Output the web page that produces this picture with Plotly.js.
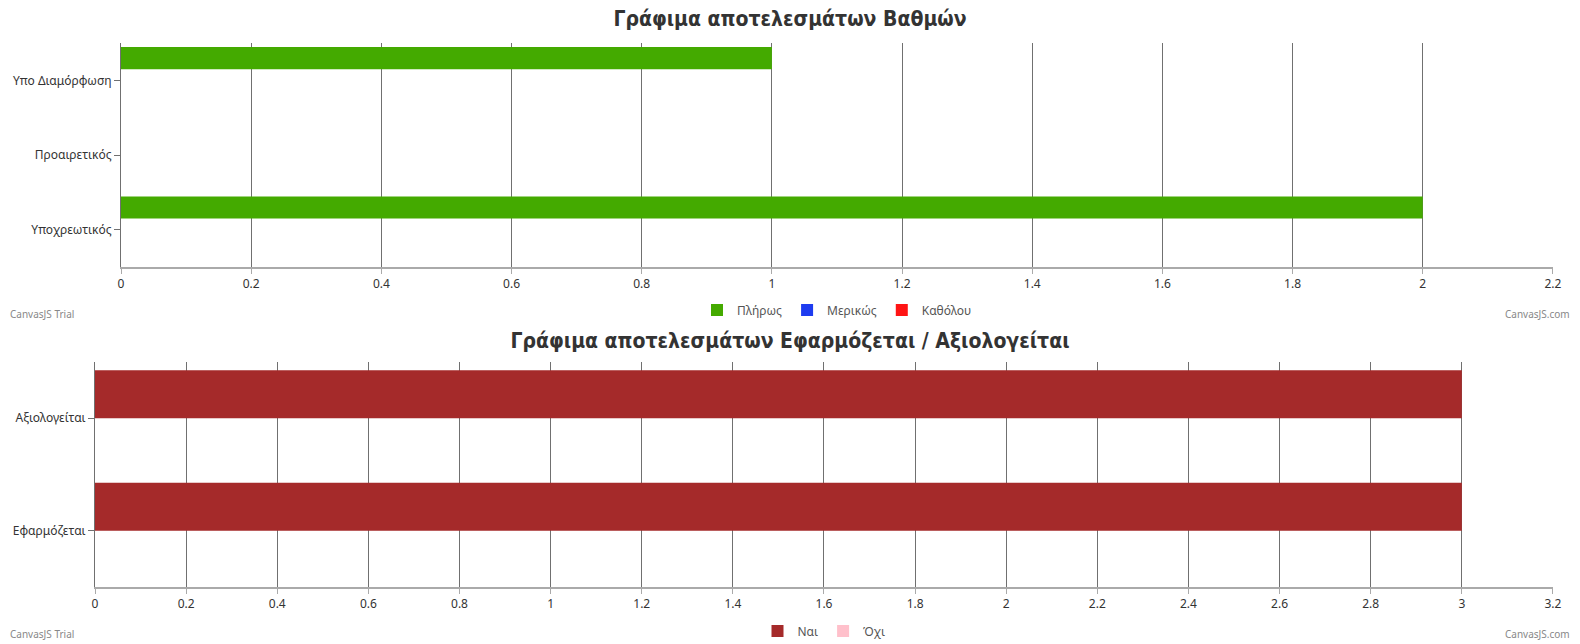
<!DOCTYPE html>
<html>
<head>
<meta charset="utf-8">
<script src="https://cdn.plot.ly/plotly-3.0.1.min.js"></script>
<style>
  body { margin: 0; background: #fff; }
  .chart { width: 1580px; height: 322px; }
</style>
</head>
<body>
<div id="gradeChart" class="chart"></div>
<div id="applyChart" class="chart"></div>
<script>
// Grades chart
var gradeCategories = ["Υποχρεωτικός", "Προαιρετικός", "Υπο Διαμόρφωση"];
var fullValues = [2, 0, 1];      // Πλήρως
var partialValues = [0, 0, 0];   // Μερικώς
var noneValues = [0, 0, 0];      // Καθόλου

// Applied / evaluated chart
var applyCategories = ["Εφαρμόζεται", "Αξιολογείται"];
var yesValues = [3, 3];   // Ναι
var noValues = [0, 0];    // Όχι

var W = 1580, H = 322;
var labelFont = {family: "Noto Sans, sans-serif", size: 12, color: "#333"};
var titleFont = {family: "DejaVu Sans Condensed, DejaVu Sans, sans-serif", size: 21, weight: 700, color: "#333"};

function bar(name, cats, vals, color) {
  return {
    type: "bar",
    orientation: "h",
    name: name,
    y: cats,
    x: vals,
    marker: {color: color},
    hoverinfo: "x+y+name"
  };
}

// px -> paper coords, for the watermark notes
function notes(m, yPx) {
  var pw = W - m.l - m.r, ph = H - m.t - m.b;
  var yPaper = -(yPx - (H - m.b)) / ph;
  var f = {family: "Noto Sans, sans-serif", size: 10, color: "#888"};
  return [
    {text: "CanvasJS Trial", xref: "paper", yref: "paper", x: (8 - m.l) / pw, y: yPaper,
     xanchor: "left", yanchor: "middle", showarrow: false, font: f},
    {text: "CanvasJS.com", xref: "paper", yref: "paper", x: (1572 - m.l) / pw, y: yPaper,
     xanchor: "right", yanchor: "middle", showarrow: false, font: f}
  ];
}

function layoutFor(title, m, xmax, bargap, legendY, noteY) {
  var ph = H - m.t - m.b;
  return {
    width: W, height: H,
    margin: m,
    paper_bgcolor: "#fff",
    plot_bgcolor: "#fff",
    title: {text: title, font: titleFont, x: 0.5, xref: "container", y: 1 - 18.5 / H, yref: "container", yanchor: "middle"},
    barmode: "group",
    bargap: bargap,
    bargroupgap: 0,
    showlegend: true,
    legend: {orientation: "h", x: 0.5, xanchor: "center", y: -(legendY - (H - m.b)) / ph, yanchor: "middle",
             traceorder: "reversed", font: {family: "Noto Sans, sans-serif", size: 12, color: "#555"}},
    xaxis: {
      range: [0, xmax + 0.0001], dtick: 0.2, tick0: 0,
      showgrid: true, gridcolor: "#707070", gridwidth: 1, zeroline: false,
      showline: true, linecolor: "#aaa", linewidth: 2,
      ticks: "outside", ticklen: 5, tickcolor: "#aaa",
      tickfont: labelFont, fixedrange: true
    },
    yaxis: {
      type: "category", showgrid: false, zeroline: false,
      showline: true, linecolor: "#707070", linewidth: 1,
      ticks: "outside", ticklen: 6, tickcolor: "#707070",
      tickfont: labelFont, fixedrange: true
    },
    annotations: notes(m, noteY)
  };
}

var m1 = {l: 121, r: 27, t: 43, b: 55, pad: 0, autoexpand: false};
var gradeData = [
  bar("Καθόλου", gradeCategories, noneValues, "#ff1414"),
  bar("Μερικώς", gradeCategories, partialValues, "#1e3cf0"),
  bar("Πλήρως", gradeCategories, fullValues, "#44aa00")
];
Plotly.newPlot("gradeChart", gradeData,
  layoutFor("Γράφιμα αποτελεσμάτων Βαθμών", m1, 2.2, 0.11, 310, 314),
  {displayModeBar: false});

var m2 = {l: 95, r: 27, t: 40, b: 57, pad: 0, autoexpand: false};
var applyData = [
  bar("Όχι", applyCategories, noValues, "#ffc0cb"),
  bar("Ναι", applyCategories, yesValues, "#a52a2a")
];
Plotly.newPlot("applyChart", applyData,
  layoutFor("Γράφιμα αποτελεσμάτων Εφαρμόζεται / Αξιολογείται", m2, 3.2, 0.145, 309, 312),
  {displayModeBar: false});
</script>
</body>
</html>
